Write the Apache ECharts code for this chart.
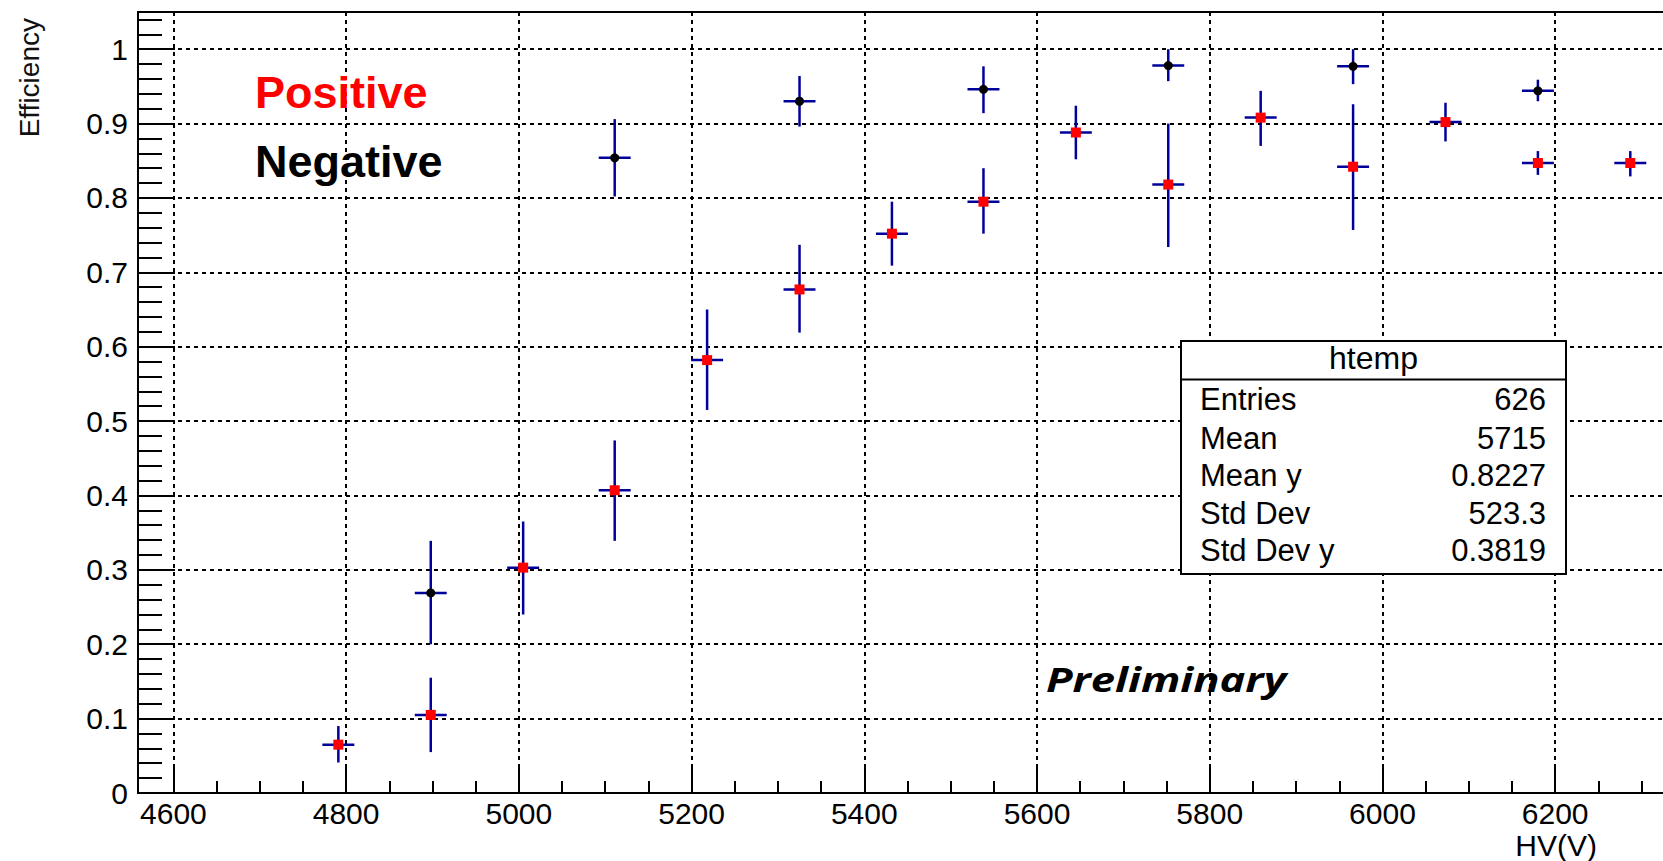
<!DOCTYPE html>
<html>
<head>
<meta charset="utf-8">
<script src="https://cdn.jsdelivr.net/npm/echarts@6/dist/echarts.min.js"></script>
<style>
  html, body { margin: 0; padding: 0; background: #ffffff; }
  #chart { width: 1663px; height: 861px; }
</style>
</head>
<body>
<div id="chart"></div>
<script>
// Efficiency vs HV, positive polarity (red squares)
const hvPositive       = [4791, 4898, 5005, 5111, 5218, 5325, 5432, 5538, 5645, 5752, 5859, 5966, 6073, 6180, 6287];
const effPositive      = [0.065, 0.105, 0.303, 0.407, 0.582, 0.677, 0.752, 0.795, 0.888, 0.818, 0.908, 0.842, 0.902, 0.847, 0.847];
const effPositiveLow   = [0.041, 0.055, 0.240, 0.339, 0.515, 0.619, 0.709, 0.752, 0.852, 0.734, 0.870, 0.757, 0.876, 0.831, 0.829];
const effPositiveHigh  = [0.090, 0.155, 0.365, 0.474, 0.650, 0.737, 0.795, 0.840, 0.924, 0.900, 0.944, 0.926, 0.928, 0.863, 0.863];

// Efficiency vs HV, negative polarity (black dots)
const hvNegative       = [4898, 5111, 5325, 5538, 5752, 5966, 6180];
const effNegative      = [0.269, 0.854, 0.930, 0.946, 0.978, 0.977, 0.944];
const effNegativeLow   = [0.200, 0.802, 0.896, 0.914, 0.957, 0.953, 0.930];
const effNegativeHigh  = [0.339, 0.906, 0.964, 0.977, 1.000, 1.000, 0.959];

// half width of the horizontal error bar, in volts
const hvHalfWidth = 18.5;

// statistics box
const statsTitle = 'htemp';
const statsLabels = ['Entries', 'Mean', 'Mean y', 'Std Dev', 'Std Dev y'];
const statsValues = ['626', '5715', '0.8227', '523.3', '0.3819'];

// axis ranges and tick steps
const X_MIN = 4559, X_MAX = 6400, X_TICK_START = 4600;
const X_MAJOR = 200, X_MINOR = 50;
const Y_MIN = 0, Y_MAX = 1.05, Y_MAJOR = 0.1, Y_MINOR = 0.02;

// ---- layout ----
const W = 1663, H = 861;
const plotLeft = 138, plotTop = 12, plotBottom = 793;
const pxPerVolt = 0.8636;
const gridRight = W - (plotLeft + (X_MAX - X_MIN) * pxPerVolt);
const tickGridLeft = plotLeft + (X_TICK_START - X_MIN) * pxPerVolt;

const FONT = "'Liberation Sans', Arial, Helvetica, sans-serif";
const BAR_COLOR = '#00009a';

function toRows(xs, ys, lo, hi) {
  return xs.map((x, i) => [x, ys[i], lo[i], hi[i]]);
}

function errorBarRenderer(markerKind) {
  return function (params, api) {
    const x = api.value(0), y = api.value(1), lo = api.value(2), hi = api.value(3);
    const c = api.coord([x, y]);
    const top = api.coord([x, hi]);
    const bot = api.coord([x, lo]);
    const l = api.coord([x - hvHalfWidth, y]);
    const r = api.coord([x + hvHalfWidth, y]);
    const barStyle = { stroke: BAR_COLOR, lineWidth: 2.5 };
    const marker = markerKind === 'square'
      ? { type: 'rect', shape: { x: c[0] - 5, y: c[1] - 5, width: 10, height: 10 }, style: { fill: '#ff0000' } }
      : { type: 'circle', shape: { cx: c[0], cy: c[1], r: 4.5 }, style: { fill: '#000000' } };
    return {
      type: 'group',
      children: [
        { type: 'line', shape: { x1: bot[0], y1: bot[1], x2: top[0], y2: top[1] }, style: barStyle },
        { type: 'line', shape: { x1: l[0], y1: l[1], x2: r[0], y2: r[1] }, style: barStyle },
        marker
      ]
    };
  };
}

const plainNumber = v => String(Math.round(v * 1000) / 1000);

const gridLine = { show: true, lineStyle: { color: '#000', width: 2, type: [4, 4] } };
const hiddenLine = { show: false };

const chart = echarts.init(document.getElementById('chart'), null, { renderer: 'svg', width: W, height: H });

const statsBox = { left: 1181, top: 341, width: 385, height: 233, titleH: 38.5 };
const statsRowMid = [399.8, 438.4, 475.8, 513.1, 550.8];

const graphics = [
  {
    type: 'text', x: 29.5, y: 18, rotation: Math.PI / 2, z: 100,
    style: { text: 'Efficiency', font: '28px ' + FONT, fill: '#111', align: 'right', verticalAlign: 'middle' }
  },
  {
    type: 'text', x: 1597, y: 845, z: 100,
    style: { text: 'HV(V)', font: '30px ' + FONT, fill: '#000', align: 'right', verticalAlign: 'middle' }
  },
  {
    type: 'text', x: 255, y: 92.3, z: 100,
    style: { text: 'Positive', font: 'bold 45px ' + FONT, fill: '#ff0000', align: 'left', verticalAlign: 'middle' }
  },
  {
    type: 'text', x: 255, y: 161.5, z: 100,
    style: { text: 'Negative', font: 'bold 45px ' + FONT, fill: '#000000', align: 'left', verticalAlign: 'middle' }
  },
  {
    type: 'text', x: 1046, y: 679, scaleX: 1.28, z: 100,
    style: { text: 'Preliminary', font: "italic bold 34px 'Open Sans', Lato, sans-serif", fill: '#000', align: 'left', verticalAlign: 'middle' }
  },
  {
    type: 'rect', z: 100,
    shape: { x: statsBox.left, y: statsBox.top, width: statsBox.width, height: statsBox.height },
    style: { fill: '#ffffff', stroke: '#000', lineWidth: 2 }
  },
  {
    type: 'line', z: 101,
    shape: { x1: statsBox.left, y1: statsBox.top + statsBox.titleH, x2: statsBox.left + statsBox.width, y2: statsBox.top + statsBox.titleH },
    style: { stroke: '#000', lineWidth: 2 }
  },
  {
    type: 'text', x: statsBox.left + statsBox.width / 2, y: 357.5, z: 101,
    style: { text: statsTitle, font: '32px ' + FONT, fill: '#000', align: 'center', verticalAlign: 'middle' }
  }
];
statsLabels.forEach((label, i) => {
  graphics.push({
    type: 'text', x: 1200, y: statsRowMid[i], z: 101,
    style: { text: label, font: '31px ' + FONT, fill: '#000', align: 'left', verticalAlign: 'middle' }
  });
  graphics.push({
    type: 'text', x: 1546, y: statsRowMid[i], z: 101,
    style: { text: statsValues[i], font: '31px ' + FONT, fill: '#000', align: 'right', verticalAlign: 'middle' }
  });
});

const option = {
  backgroundColor: '#ffffff',
  animation: false,
  grid: [
    // frame and data area
    { left: plotLeft, top: plotTop, right: gridRight, bottom: H - plotBottom, containLabel: false, outerBoundsMode: 'none',
      show: true, borderColor: '#000', borderWidth: 2, backgroundColor: 'transparent' },
    // HV tick area, starting at the first labelled voltage
    { left: tickGridLeft, top: plotTop, right: gridRight, bottom: H - plotBottom, containLabel: false, outerBoundsMode: 'none' }
  ],
  xAxis: [
    { type: 'value', gridIndex: 0, min: X_MIN, max: X_MAX, show: true,
      axisLine: { show: true, onZero: false, lineStyle: { color: '#000', width: 2 } },
      axisTick: hiddenLine, axisLabel: { show: false }, splitLine: hiddenLine },
    { type: 'value', gridIndex: 1, min: X_TICK_START, max: X_MAX, interval: X_MAJOR, position: 'bottom',
      axisLine: { show: false },
      axisTick: { show: true, inside: true, length: 27, lineStyle: { color: '#000', width: 2 } },
      axisLabel: { show: true, margin: 6, lineHeight: 28, fontFamily: FONT, fontSize: 30, color: '#000', showMaxLabel: false, formatter: plainNumber },
      splitLine: gridLine },
    { type: 'value', gridIndex: 1, min: X_TICK_START, max: X_MAX, interval: X_MINOR, position: 'bottom',
      axisLine: { show: false },
      axisTick: { show: true, inside: true, length: 12, lineStyle: { color: '#000', width: 2 } },
      axisLabel: { show: false }, splitLine: hiddenLine }
  ],
  yAxis: [
    { type: 'value', gridIndex: 0, min: Y_MIN, max: Y_MAX, interval: Y_MAJOR, position: 'left', offset: 0,
      axisLine: { show: true, onZero: false, lineStyle: { color: '#000', width: 2 } },
      axisTick: { show: true, inside: true, length: 37, lineStyle: { color: '#000', width: 2 } },
      axisLabel: { show: true, margin: 10, fontFamily: FONT, fontSize: 30, color: '#000', showMaxLabel: false, formatter: plainNumber },
      splitLine: gridLine },
    { type: 'value', gridIndex: 0, min: Y_MIN, max: Y_MAX, interval: Y_MINOR, position: 'left', offset: 0,
      axisLine: { show: false },
      axisTick: { show: true, inside: true, length: 24, lineStyle: { color: '#000', width: 2 } },
      axisLabel: { show: false }, splitLine: hiddenLine },
    { type: 'value', gridIndex: 1, min: Y_MIN, max: Y_MAX, show: false }
  ],
  series: [
    {
      name: 'Negative', type: 'custom', xAxisIndex: 0, yAxisIndex: 0, z: 10,
      renderItem: errorBarRenderer('circle'),
      encode: { x: 0, y: 1 },
      data: toRows(hvNegative, effNegative, effNegativeLow, effNegativeHigh)
    },
    {
      name: 'Positive', type: 'custom', xAxisIndex: 0, yAxisIndex: 0, z: 11,
      renderItem: errorBarRenderer('square'),
      encode: { x: 0, y: 1 },
      data: toRows(hvPositive, effPositive, effPositiveLow, effPositiveHigh)
    }
  ],
  graphic: graphics
};

chart.setOption(option);
</script>
</body>
</html>
